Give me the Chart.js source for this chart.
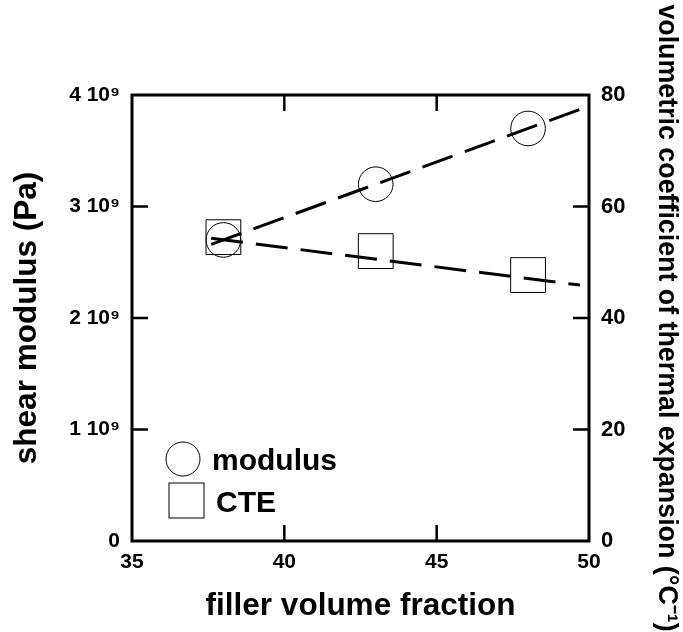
<!DOCTYPE html>
<html>
<head>
<meta charset="utf-8">
<script src="https://cdn.jsdelivr.net/npm/chart.js@4/dist/chart.umd.min.js"></script>
<style>
    body { margin: 0; background: #fff; }
    #chart { display: block; }
</style>
</head>
<body>
<canvas id="chart" width="683" height="632"></canvas>
<script>
// measured points
const fillerFraction = [38, 43, 48]
const shearModulus = [2.7e9, 3.2e9, 3.7e9]
const cteValues = [54.5, 52.0, 47.7]

// dashed fit lines (end points)
const modulusFitX = [37.6, 49.7]
const modulusFitY = [2.66e9, 3.87e9]
const cteFitX = [37.6, 49.7]
const cteFitY = [54.3, 45.9]

const xTicks = [35, 40, 45, 50]
const modulusTicks = [0, 1e9, 2e9, 3e9, 4e9]
const cteTicks = [0, 20, 40, 60, 80]

const legendLabels = ['modulus', 'CTE']

const FONT = "'Liberation Sans', Arial, Helvetica, sans-serif"

const toPoints = (xs, ys) => xs.map((x, i) => ({ x: x, y: ys[i] }))

// frame around the plot + inward ticks on all four sides
const framePlugin = {
    id: 'frame',
    afterDraw(chart) {
        const ctx = chart.ctx
        const a = chart.chartArea
        const sx = chart.scales.x, sy = chart.scales.y, sy2 = chart.scales.y2
        const len = 16
        ctx.save()
        ctx.strokeStyle = '#000'
        ctx.lineWidth = 2.5
        ctx.beginPath()
        xTicks.slice(1, -1).forEach(v => {
            const px = sx.getPixelForValue(v)
            ctx.moveTo(px, a.bottom); ctx.lineTo(px, a.bottom - len)
            ctx.moveTo(px, a.top); ctx.lineTo(px, a.top + len)
        })
        modulusTicks.slice(1, -1).forEach(v => {
            const py = sy.getPixelForValue(v)
            ctx.moveTo(a.left, py); ctx.lineTo(a.left + len, py)
        })
        cteTicks.slice(1, -1).forEach(v => {
            const py = sy2.getPixelForValue(v)
            ctx.moveTo(a.right, py); ctx.lineTo(a.right - len, py)
        })
        ctx.stroke()
        ctx.lineWidth = 3
        ctx.strokeRect(a.left, a.top, a.right - a.left, a.bottom - a.top)
        ctx.restore()
    }
}

// legend drawn inside the plot, lower left
const legendPlugin = {
    id: 'innerLegend',
    afterDraw(chart) {
        const ctx = chart.ctx
        const a = chart.chartArea
        ctx.save()
        ctx.strokeStyle = '#000'
        ctx.lineWidth = 1
        ctx.fillStyle = '#000'
        ctx.font = 'bold 30px ' + FONT
        ctx.textBaseline = 'alphabetic'
        ctx.textAlign = 'left'

        // circle
        ctx.beginPath()
        ctx.arc(a.left + 51, a.bottom - 82, 17, 0, Math.PI * 2)
        ctx.stroke()
        ctx.fillText(legendLabels[0], a.left + 80, a.bottom - 71)

        // square
        ctx.strokeRect(a.left + 37, a.bottom - 58, 35, 35)
        ctx.fillText(legendLabels[1], a.left + 84, a.bottom - 29)
        ctx.restore()
    }
}

const ctx = document.getElementById('chart').getContext('2d')
const chart = new Chart(ctx, {
    type: 'scatter',
    data: {
        datasets: [
            {
                label: 'modulus',
                data: toPoints(fillerFraction, shearModulus),
                yAxisID: 'y',
                pointStyle: 'circle',
                pointRadius: 17.3,
                borderColor: '#000',
                backgroundColor: 'rgba(0,0,0,0)',
                borderWidth: 1
            },
            {
                label: 'CTE',
                data: toPoints(fillerFraction, cteValues),
                yAxisID: 'y2',
                pointStyle: 'rect',
                pointRadius: 24.6,
                borderColor: '#000',
                backgroundColor: 'rgba(0,0,0,0)',
                borderWidth: 1
            },
            {
                label: 'modulus fit',
                data: toPoints(modulusFitX, modulusFitY),
                yAxisID: 'y',
                showLine: true,
                pointRadius: 0,
                borderColor: '#000',
                borderWidth: 3,
                borderDash: [32, 13]
            },
            {
                label: 'CTE fit',
                data: toPoints(cteFitX, cteFitY),
                yAxisID: 'y2',
                showLine: true,
                pointRadius: 0,
                borderColor: '#000',
                borderWidth: 3,
                borderDash: [32, 13]
            }
        ]
    },
    options: {
        responsive: false,
        animation: false,
        layout: { padding: { top: 95, left: 0, right: 0, bottom: 0 } },
        plugins: {
            legend: { display: false },
            tooltip: { enabled: false }
        },
        scales: {
            x: {
                type: 'linear',
                min: 35,
                max: 50,
                afterBuildTicks: s => { s.ticks = xTicks.map(v => ({ value: v })) },
                afterFit: s => { s.height = 91 },
                grid: { display: false, drawTicks: false },
                border: { display: false },
                ticks: {
                    color: '#000',
                    padding: 9,
                    maxRotation: 0,
                    font: { family: FONT, size: 21, weight: 'bold' }
                },
                title: {
                    display: true,
                    text: 'filler volume fraction',
                    color: '#000',
                    padding: { bottom: 10 },
                    font: { family: FONT, size: 31.5, weight: 'bold', lineHeight: 1 }
                }
            },
            y: {
                type: 'linear',
                position: 'left',
                min: 0,
                max: 4e9,
                afterBuildTicks: s => { s.ticks = modulusTicks.map(v => ({ value: v })) },
                afterFit: s => { s.width = 132 },
                grid: { display: false, drawTicks: false },
                border: { display: false },
                ticks: {
                    color: '#000',
                    padding: 12,
                    font: { family: FONT, size: 21, weight: 'bold' },
                    callback: v => v === 0 ? '0' : (v / 1e9) + ' 10\u2079'
                },
                title: {
                    display: true,
                    text: 'shear modulus (Pa)',
                    color: '#000',
                    padding: { top: 12 },
                    font: { family: FONT, size: 31.5, weight: 'bold', lineHeight: 1 }
                }
            },
            y2: {
                type: 'linear',
                position: 'right',
                min: 0,
                max: 80,
                afterBuildTicks: s => { s.ticks = cteTicks.map(v => ({ value: v })) },
                afterFit: s => { s.width = 94 },
                grid: { display: false, drawTicks: false },
                border: { display: false },
                ticks: {
                    color: '#000',
                    padding: 12,
                    font: { family: FONT, size: 22, weight: 'bold' }
                },
                title: {
                    display: true,
                    text: 'volumetric coefficient of thermal expansion (\u00b0C\u207b\u00b9)',
                    color: '#000',
                    padding: { top: 3 },
                    font: { family: FONT, size: 26.8, weight: 'bold', lineHeight: 1 }
                }
            }
        }
    },
    plugins: [framePlugin, legendPlugin]
})
</script>
</body>
</html>
